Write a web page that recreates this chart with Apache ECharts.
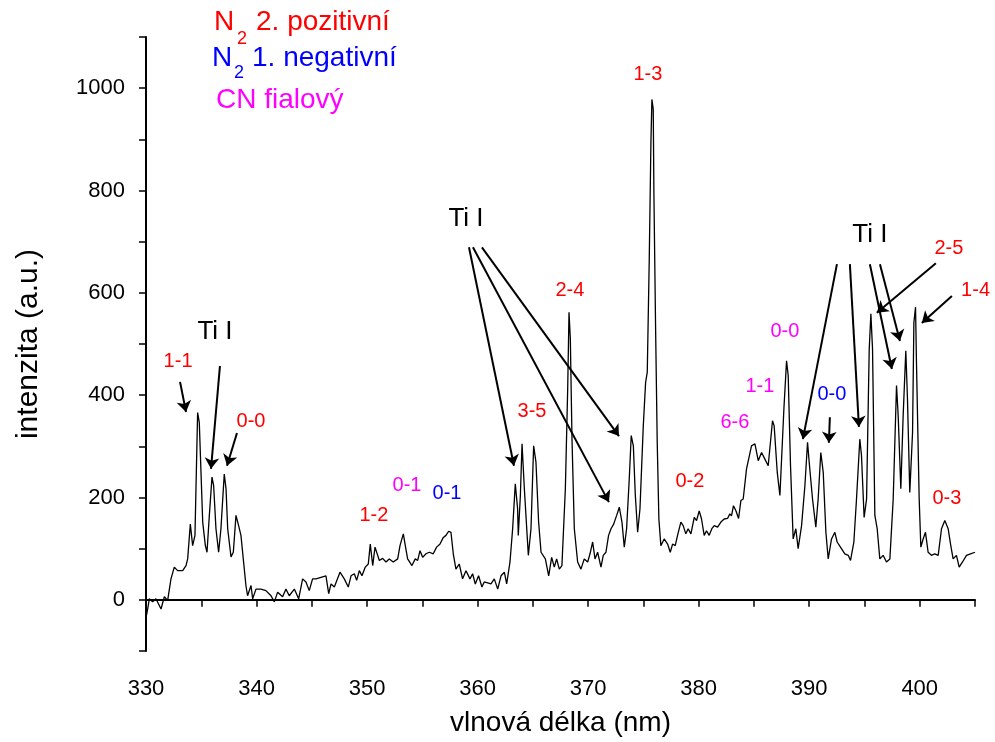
<!DOCTYPE html>
<html>
<head>
<meta charset="utf-8">
<script src="https://cdn.jsdelivr.net/npm/echarts@6/dist/echarts.min.js"></script>
<style>
  html, body { margin: 0; padding: 0; background: #fff; }
  #main { width: 995px; height: 742px; }
</style>
</head>
<body>
<div id="main"></div>
<script>
// spectrum: wavelength (nm) and intensity (a.u.)
var wavelength = [
    330.00, 330.15, 330.30, 330.60, 330.90, 331.36, 331.66, 331.96, 332.26, 332.56,
    332.86, 333.32, 333.62, 333.77, 334.01, 334.22, 334.43, 334.67, 334.82, 335.13,
    335.37, 335.52, 335.73, 335.97, 336.12, 336.33, 336.57, 336.78, 337.08, 337.24,
    337.39, 337.69, 337.90, 338.14, 338.38, 338.59, 339.04, 339.19, 339.50, 339.65,
    339.95, 340.40, 340.85, 341.31, 341.61, 341.91, 342.36, 342.66, 342.96, 343.42,
    343.81, 344.17, 344.47, 344.77, 345.07,
    345.38, 345.83, 346.28, 346.53, 346.74, 347.04, 347.55, 347.94, 348.30, 348.55,
    348.85, 349.06, 349.30, 349.54, 349.84, 350.11, 350.29, 350.51, 350.72, 350.90,
    351.11, 351.41, 351.71, 352.01, 352.37, 352.77, 352.98, 353.28, 353.46, 353.67,
    354.06, 354.36, 354.58, 354.79, 355.03, 355.33, 355.63, 355.99, 356.29, 356.60,
    356.90, 357.14, 357.38, 357.59, 357.80, 358.04, 358.34, 358.64, 358.95, 359.31,
    359.55, 359.79, 360.09, 360.39, 360.60,
    360.76, 361.21, 361.51, 361.82, 362.12, 362.42, 362.63, 362.93, 363.17, 363.41,
    363.62, 363.68, 363.87, 364.02, 364.23, 364.59, 364.83, 365.07, 365.28, 365.52,
    365.74, 366.13, 366.43, 366.70, 366.94, 367.15, 367.39, 367.63, 367.94, 368.15,
    368.27, 368.39, 368.54, 368.75, 369.05, 369.35, 369.65, 369.96, 370.17, 370.41,
    370.62, 370.86, 371.16, 371.37, 371.61, 371.85, 372.07, 372.31, 372.58, 372.82,
    373.06, 373.27, 373.48, 373.72, 373.90, 374.09, 374.27, 374.48, 374.69, 374.99,
    375.20, 375.35, 375.53, 375.68, 375.77, 375.89, 375.95, 376.10, 376.25, 376.40,
    376.58, 376.88, 377.19, 377.43, 377.64, 377.88, 378.09, 378.39, 378.60, 378.84,
    379.05, 379.30, 379.60, 379.81, 380.05, 380.26, 380.50, 380.71, 380.95, 381.19,
    381.41, 381.71, 382.01, 382.31, 382.61, 382.82, 382.97, 383.15, 383.37, 383.61,
    383.82,
    384.03, 384.33, 384.78, 385.09, 385.39, 385.69, 385.99, 386.29, 386.68, 386.83,
    387.11, 387.35, 387.71, 387.95, 388.10, 388.31, 388.55, 388.79, 389.00, 389.31,
    389.61, 389.85, 390.00, 390.30, 390.60, 390.81, 391.05, 391.27, 391.51, 391.72,
    392.02, 392.32, 392.53, 392.83, 393.22, 393.53, 393.74, 394.04, 394.28, 394.58,
    394.73, 394.97, 395.19, 395.43, 395.58, 395.73, 395.94, 396.15, 396.39, 396.69,
    396.99, 397.30, 397.60, 397.90, 398.05, 398.29, 398.50, 398.74, 398.89, 399.10,
    399.35, 399.47, 399.62, 399.71, 399.95, 400.10, 400.31, 400.52, 400.76, 401.06,
    401.36, 401.67, 401.97, 402.27, 402.57, 402.81, 403.02, 403.32, 403.57, 403.87,
    404.23, 404.59, 405.00
];
var intensity = [
    -35, -18, 2, -4, 2, -18, 6, -1, 41, 64,
    57, 57, 67, 80, 148, 106, 126, 366, 347, 152,
    106, 93, 165, 240, 223, 139, 93, 139, 246, 217,
    139, 84, 93, 165, 145, 126, 28, 8, 28, 2,
    21, 21, 18, 8, -4, 15, 6, 21, 8, 21,
    2, 41, 35, 18, 41,
    41, 44, 47, 12, 31, 25, 54, 41, 25, 47,
    51, 38, 57, 47, 64, 70, 109, 67, 103, 100,
    77, 81, 74, 80, 74, 80, 106, 129, 106, 80,
    67, 80, 77, 96, 83, 90, 93, 90, 103, 109,
    122, 126, 134, 132, 90, 60, 70, 41, 57, 41,
    51, 31, 47, 25, 35,
    35, 31, 41, 21, 47, 54, 31, 74, 139, 227,
    178, 126, 204, 305, 217, 87, 139, 301, 269, 152,
    93, 80, 47, 83, 64, 80, 60, 67, 217, 412,
    562, 510, 314, 139, 74, 60, 80, 74, 90, 113,
    80, 93, 64, 87, 93, 126, 139, 148, 165, 181,
    152, 103, 139, 236, 321, 301, 204, 132, 178, 340,
    425, 445, 666, 894, 978, 959, 796, 536, 308, 158,
    106, 119, 109, 93, 109, 106, 126, 152, 145, 129,
    139, 129, 161, 155, 174, 158, 126, 135, 126, 139,
    145, 142, 152, 158, 159, 168, 164, 184, 174, 159,
    194,
    197, 256, 301, 305, 272, 288, 275, 262, 350, 340,
    249, 204, 373, 467, 438, 262, 119, 139, 100, 145,
    223, 308, 269, 197, 142, 197, 288, 249, 132, 80,
    119, 132, 113, 103, 90, 87, 77, 113, 197, 314,
    282, 161, 197, 490, 559, 490, 165, 139, 80, 87,
    74, 80, 197, 419, 360, 217, 360, 487, 393, 210,
    327, 542, 572, 458, 197, 103, 119, 132, 93, 87,
    90, 87, 139, 155, 139, 106, 80, 87, 64, 74,
    87, 90, 93
];

// band labels, by system
var n2PosText = ["1-1", "0-0", "1-2", "3-5", "2-4", "1-3", "0-2", "2-5", "1-4", "0-3"];
var n2PosX = [332.90, 339.50, 350.62, 364.92, 368.35, 375.41, 379.21, 402.64, 405.05, 402.46];
var n2PosY = [465, 348, 164, 369, 604, 1027, 232, 686, 604, 199];

var n2NegText = ["0-1", "0-0"];
var n2NegX = [357.23, 392.05];
var n2NegY = [207, 402];

var cnText = ["0-1", "6-6", "1-1", "0-0"];
var cnX = [353.61, 383.28, 385.54, 387.80];
var cnY = [223, 346, 416, 525];

var tiText = ["Ti I", "Ti I", "Ti I"];
var tiX = [336.24, 358.95, 395.49];
var tiY = [523, 744, 713];

// arrows: from [x, y] to [x, y]
var arrowFrom = [
    [333.08, 426], [336.69, 457], [338.23, 326],
    [359.22, 689], [359.58, 689], [360.39, 689],
    [392.51, 656], [393.68, 656], [395.49, 656], [396.40, 656],
    [401.46, 658], [402.91, 594], [391.87, 357]
];
var arrowTo = [
    [333.62, 367], [335.88, 256], [337.33, 262],
    [363.29, 262], [371.88, 191], [372.79, 320],
    [389.43, 314], [394.50, 338], [397.48, 451], [398.21, 506],
    [396.12, 561], [400.19, 541], [391.78, 307]
];

var font = "Liberation Sans";

function labelSeries(texts, xs, ys, color, size) {
    return {
        type: "scatter",
        symbolSize: 1,
        clip: false,
        silent: true,
        z: 5,
        itemStyle: { color: "transparent", opacity: 1 },
        label: {
            show: true,
            position: "inside",
            color: color,
            opacity: 1,
            fontFamily: font,
            fontSize: size,
            formatter: function (p) { return p.data.name; }
        },
        data: texts.map(function (t, i) {
            return { name: t, value: [xs[i], ys[i]] };
        })
    };
}

var chart = echarts.init(document.getElementById("main"));

var options = {
    animation: false,
    backgroundColor: "#fff",
    grid: { left: 146, right: 20, top: 37, bottom: 90 },
    xAxis: {
        type: "value",
        min: 330,
        max: 405,
        interval: 5,
        name: "vlnová délka (nm)",
        nameLocation: "middle",
        nameGap: 58,
        nameTextStyle: { fontFamily: font, fontSize: 28, color: "#000" },
        axisLine: { lineStyle: { color: "#000", width: 2 } },
        axisTick: { length: 7, lineStyle: { color: "#000", width: 1.5 } },
        axisLabel: {
            margin: 27,
            fontFamily: font,
            fontSize: 22,
            color: "#000",
            formatter: function (v) {
                return (v % 10 === 0 && v <= 400) ? String(v) : "";
            }
        },
        splitLine: { show: false }
    },
    yAxis: {
        type: "value",
        min: -100,
        max: 1100,
        interval: 100,
        name: "intenzita (a.u.)",
        nameLocation: "middle",
        nameGap: 102,
        nameTextStyle: { fontFamily: font, fontSize: 30, color: "#000" },
        axisLine: { show: true, lineStyle: { color: "#000", width: 2 } },
        axisTick: { show: true, length: 7, lineStyle: { color: "#000", width: 1.5 } },
        axisLabel: {
            margin: 21,
            fontFamily: font,
            fontSize: 22,
            color: "#000",
            formatter: function (v) {
                return (v >= 0 && v <= 1000 && v % 200 === 0) ? String(v) : "";
            }
        },
        splitLine: { show: false }
    },
    graphic: [
        { type: "text", left: 214, top: 8, style: { text: "N", fill: "#ff0000", font: "28px " + font } },
        { type: "text", left: 237, top: 30, style: { text: "2", fill: "#ff0000", font: "18px " + font } },
        { type: "text", left: 256, top: 8, style: { text: "2. pozitivní", fill: "#ff0000", font: "28px " + font } },
        { type: "text", left: 212, top: 44, style: { text: "N", fill: "#0000ff", font: "28px " + font } },
        { type: "text", left: 234, top: 64, style: { text: "2", fill: "#0000ff", font: "18px " + font } },
        { type: "text", left: 252, top: 44, style: { text: "1. negativní", fill: "#0000ff", font: "28px " + font } },
        { type: "text", left: 216, top: 86, style: { text: "CN fialový", fill: "#ff00ff", font: "28px " + font } }
    ],
    series: [
        {
            type: "line",
            showSymbol: false,
            silent: true,
            lineStyle: { color: "#000", width: 1.3 },
            data: wavelength.map(function (x, i) { return [x, intensity[i]]; }),
            markLine: {
                silent: true,
                symbol: ["none", "arrow"],
                symbolSize: 11,
                label: { show: false },
                lineStyle: { color: "#000", width: 2, type: "solid" },
                data: arrowFrom.map(function (a, i) {
                    return [{ coord: a }, { coord: arrowTo[i] }];
                })
            }
        },
        labelSeries(n2PosText, n2PosX, n2PosY, "#ff0000", 20),
        labelSeries(n2NegText, n2NegX, n2NegY, "#0000ff", 20),
        labelSeries(cnText, cnX, cnY, "#ff00ff", 20),
        labelSeries(tiText, tiX, tiY, "#000000", 26)
    ]
};

chart.setOption(options);
</script>
</body>
</html>
